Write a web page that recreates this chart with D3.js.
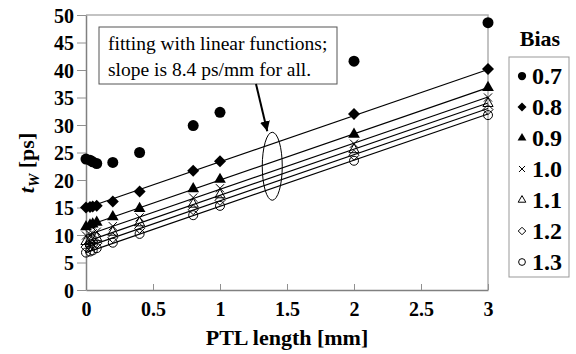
<!DOCTYPE html>
<html>
<head>
<meta charset="utf-8">
<script src="https://cdn.jsdelivr.net/npm/d3@7"></script>
<style>
  body { margin: 0; background: #fff; }
</style>
</head>
<body>
<div class="chart"></div>
<script>
var svgWidth = 576;
var svgHeight = 354;

var margin = { top: 15, right: 88, bottom: 64, left: 86 };
var chartWidth = svgWidth - margin.left - margin.right;
var chartHeight = svgHeight - margin.top - margin.bottom;
var serif = "Liberation Serif";

// data
var lengths = [0, 0.03, 0.05, 0.08, 0.2, 0.4, 0.8, 1.0, 2.0, 3.0];
var biasLabels = ["0.7", "0.8", "0.9", "1.0", "1.1", "1.2", "1.3"];
var tw07 = [23.8, 23.6, 23.3, 23.0, 23.2, 25.0, 29.9, 32.3, 41.6, 48.6];
var tw08 = [15.0, 15.1, 15.2, 15.3, 16.1, 17.9, 21.7, 23.4, 32.0, 40.2];
var tw09 = [11.5, 11.8, 12.0, 12.3, 13.3, 14.8, 18.4, 20.1, 28.3, 36.8];
var tw10 = [9.9, 10.1, 10.3, 10.6, 11.6, 13.2, 16.8, 18.5, 26.6, 35.0];
var tw11 = [8.8, 9.0, 9.2, 9.5, 10.5, 12.2, 15.6, 17.3, 25.5, 33.9];
var tw12 = [7.8, 8.0, 8.2, 8.5, 9.5, 11.2, 14.6, 16.3, 24.5, 32.8];
var tw13 = [6.8, 7.0, 7.2, 7.6, 8.6, 10.2, 13.6, 15.3, 23.5, 31.8];
var fitIntercepts = [null, 14.9, 11.6, 9.9, 8.8, 7.8, 6.8];
var fitSlope = 8.4;
var xTicks = [0, 0.5, 1, 1.5, 2, 2.5, 3];
var yTicks = [0, 5, 10, 15, 20, 25, 30, 35, 40, 45, 50];

var series = [tw07, tw08, tw09, tw10, tw11, tw12, tw13];
var markers = ["circle", "diamond", "triangle", "cross", "triangleOpen", "diamondOpen", "circleOpen"];

var svg = d3.select(".chart")
  .append("svg")
  .attr("width", svgWidth)
  .attr("height", svgHeight)
  .attr("font-family", serif);

var chartGroup = svg.append("g")
  .attr("transform", `translate(${margin.left}, ${margin.top})`);

var xScale = d3.scaleLinear().domain([0, 3]).range([0, chartWidth]);
var yScale = d3.scaleLinear().domain([0, 50]).range([chartHeight, 0]);

// top / right frame
chartGroup.append("path")
  .attr("d", `M0,0H${chartWidth}V${chartHeight}`)
  .attr("fill", "none")
  .attr("stroke", "#b0b0b0")
  .attr("stroke-width", 1.5);

// axes
var bottomAxis = d3.axisBottom(xScale)
  .tickValues(xTicks)
  .tickSizeInner(-6)
  .tickSizeOuter(0)
  .tickPadding(12)
  .tickFormat(d3.format("~g"));
var leftAxis = d3.axisLeft(yScale)
  .tickValues(yTicks)
  .tickSizeInner(9)
  .tickSizeOuter(0)
  .tickPadding(3);

var xAxis = chartGroup.append("g")
  .attr("transform", `translate(0, ${chartHeight})`)
  .call(bottomAxis);
var yAxis = chartGroup.append("g").call(leftAxis);

[xAxis, yAxis].forEach(function (ax) {
  ax.attr("font-family", serif).attr("font-size", 20);
  ax.select(".domain").attr("stroke", "#808080").attr("stroke-width", 1.5);
  ax.selectAll(".tick line").attr("stroke", "#909090");
  ax.selectAll(".tick text")
    .attr("fill", "#000")
    .attr("font-family", serif)
    .attr("font-weight", "bold")
    .attr("font-size", 20);
});
yAxis.selectAll(".tick text").attr("dy", "0.36em");

// fitted lines
var fits = fitIntercepts
  .map(function (a, i) { return { a: a, i: i }; })
  .filter(function (d) { return d.a !== null; });

chartGroup.selectAll(".fit")
  .data(fits)
  .enter()
  .append("line")
  .attr("class", "fit")
  .attr("x1", xScale(0))
  .attr("y1", d => yScale(d.a))
  .attr("x2", xScale(3))
  .attr("y2", d => yScale(d.a + fitSlope * 3))
  .attr("stroke", "#000")
  .attr("stroke-width", 1.2);

// marker drawing
function diamondPath(r) {
  return `M0,${-r}L${r},0L0,${r}L${-r},0Z`;
}
function drawMarker(sel, type, s) {
  if (type === "circle") {
    sel.append("circle").attr("r", 5.5 * s).attr("fill", "#000");
  } else if (type === "circleOpen") {
    sel.append("circle").attr("r", 4.5 * s).attr("fill", "none").attr("stroke", "#000").attr("stroke-width", 1);
  } else if (type === "diamond") {
    sel.append("path").attr("d", diamondPath(6 * s)).attr("fill", "#000");
  } else if (type === "diamondOpen") {
    sel.append("path").attr("d", diamondPath(5 * s)).attr("fill", "none").attr("stroke", "#000").attr("stroke-width", 1);
  } else if (type === "triangle") {
    sel.append("path").attr("d", d3.symbol(d3.symbolTriangle, 60 * s * s)()).attr("fill", "#000");
  } else if (type === "triangleOpen") {
    sel.append("path").attr("d", d3.symbol(d3.symbolTriangle, 45 * s * s)()).attr("fill", "none").attr("stroke", "#000").attr("stroke-width", 1);
  } else if (type === "cross") {
    sel.append("path").attr("d", d3.symbol(d3.symbolTimes, 45 * s * s)()).attr("fill", "none").attr("stroke", "#000").attr("stroke-width", 1);
  }
}

series.forEach(function (vals, i) {
  var pts = chartGroup.append("g").selectAll("g")
    .data(vals)
    .enter()
    .append("g")
    .attr("transform", (d, j) => `translate(${xScale(lengths[j])}, ${yScale(d)})`);
  drawMarker(pts, markers[i], 1);
});

// annotation
var note = chartGroup.append("g");
note.append("rect")
  .attr("x", 13).attr("y", 12)
  .attr("width", 238).attr("height", 57)
  .attr("fill", "#fff")
  .attr("stroke", "#555")
  .attr("stroke-width", 1);
note.append("text")
  .attr("x", 22).attr("y", 35)
  .attr("font-family", serif)
  .attr("font-size", 19.5)
  .text("fitting with linear functions;");
note.append("text")
  .attr("x", 22).attr("y", 61)
  .attr("font-family", serif)
  .attr("font-size", 19.5)
  .text("slope is 8.4 ps/mm for all.");

svg.append("defs").append("marker")
  .attr("id", "arrow")
  .attr("viewBox", "0 0 10 10")
  .attr("refX", 10).attr("refY", 5)
  .attr("markerWidth", 5).attr("markerHeight", 5)
  .attr("orient", "auto")
  .append("path")
  .attr("d", "M0,0L10,5L0,10z")
  .attr("fill", "#000");

var ex = xScale(1.39), ey = yScale(22.5);
chartGroup.append("line")
  .attr("x1", 170).attr("y1", 69)
  .attr("x2", ex - 5).attr("y2", ey - 35)
  .attr("stroke", "#000")
  .attr("stroke-width", 2)
  .attr("marker-end", "url(#arrow)");
chartGroup.append("ellipse")
  .attr("cx", ex).attr("cy", ey)
  .attr("rx", 10).attr("ry", 34)
  .attr("fill", "none")
  .attr("stroke", "#000")
  .attr("stroke-width", 1);

// axis titles
svg.append("text")
  .attr("x", margin.left + chartWidth / 2)
  .attr("y", 345)
  .attr("text-anchor", "middle")
  .attr("font-family", serif)
  .attr("font-weight", "bold")
  .attr("font-size", 22)
  .text("PTL length [mm]");

var yTitle = svg.append("text")
  .attr("transform", "translate(34, 163) rotate(-90)")
  .attr("text-anchor", "middle")
  .attr("font-family", serif)
  .attr("font-weight", "bold")
  .attr("font-size", 22);
yTitle.append("tspan").attr("font-style", "italic").text("t");
yTitle.append("tspan").attr("font-style", "italic").attr("font-size", 15).attr("dy", 5).text("W");
yTitle.append("tspan").attr("dy", -5).text("  [ps]");

// legend
svg.append("text")
  .attr("x", 540).attr("y", 46)
  .attr("text-anchor", "middle")
  .attr("font-family", serif)
  .attr("font-weight", "bold")
  .attr("font-size", 22)
  .text("Bias");

var legend = svg.append("g");
legend.append("rect")
  .attr("x", 509).attr("y", 57)
  .attr("width", 60).attr("height", 220)
  .attr("fill", "#fff")
  .attr("stroke", "#999")
  .attr("stroke-width", 1);

var items = legend.selectAll(".item")
  .data(biasLabels)
  .enter()
  .append("g")
  .attr("class", "item")
  .attr("transform", (d, i) => `translate(522, ${76 + i * 31})`);
items.each(function (d, i) {
  drawMarker(d3.select(this), markers[i], 0.75);
});
items.append("text")
  .attr("x", 10).attr("dy", "0.35em")
  .attr("font-family", serif)
  .attr("font-weight", "bold")
  .attr("font-size", 24)
  .text(d => d);
</script>
</body>
</html>
